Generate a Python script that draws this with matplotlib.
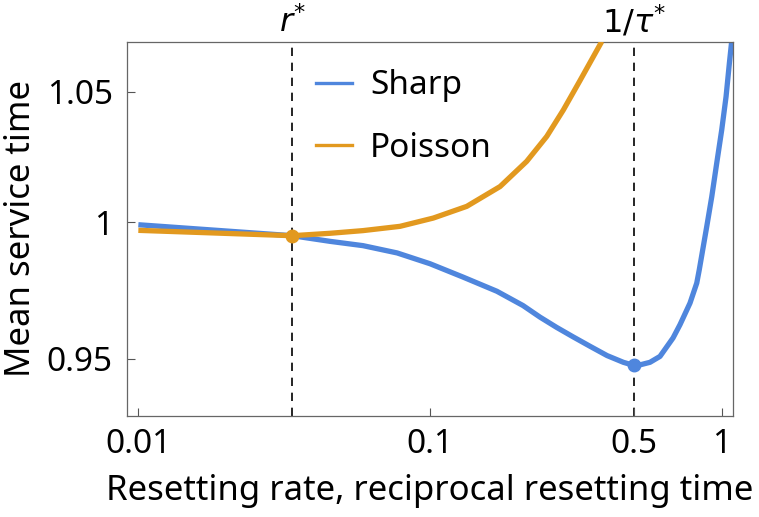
import matplotlib
matplotlib.use("Agg")
import matplotlib.pyplot as plt
from matplotlib.ticker import FixedLocator, FixedFormatter, NullLocator
from matplotlib.lines import Line2D

plt.rcParams['font.family'] = ['Noto Sans', 'DejaVu Sans']
plt.rcParams['mathtext.fontset'] = 'dejavusans'

# Sharp resetting (reciprocal resetting time)
sharp_x = [0.0100, 0.0337, 0.0454, 0.0589, 0.0771, 0.1000, 0.1297, 0.1695, 0.2083,
           0.2382, 0.2716, 0.3093, 0.3538, 0.4044, 0.4600, 0.5000, 0.5248, 0.5675,
           0.6141, 0.6808, 0.7194, 0.7784, 0.8210, 0.8375, 0.8886, 0.9244, 0.9611,
           1.0000, 1.0346, 1.0620, 1.0815]
sharp_y = [0.9990, 0.9949, 0.9928, 0.9912, 0.9885, 0.9845, 0.9796, 0.9744, 0.9692,
           0.9650, 0.9613, 0.9579, 0.9545, 0.9512, 0.9488, 0.9477, 0.9479, 0.9488,
           0.9509, 0.9575, 0.9623, 0.9701, 0.9774, 0.9823, 0.9984, 1.0096, 1.0223,
           1.0352, 1.0481, 1.0613, 1.0700]

# Poisson resetting (rate)
poisson_x = [0.0100, 0.0337, 0.0454, 0.0589, 0.0789, 0.1026, 0.1336, 0.1738, 0.2144,
             0.2512, 0.2864, 0.3268, 0.3879]
poisson_y = [0.9969, 0.9949, 0.9958, 0.9968, 0.9984, 1.0015, 1.0059, 1.0134, 1.0230,
             1.0326, 1.0429, 1.0545, 1.0700]

r_star = 0.0337
r_star_val = 0.9949
tau_inv = 0.5
tau_val = 0.9477

x_ticks = [0.01, 0.1, 0.5, 1]
x_tick_labels = ['0.01', '0.1', '0.5', '1']
y_ticks = [0.95, 1.0, 1.05]
y_tick_labels = ['0.95', '1', '1.05']

blue = '#4F86DD'
orange = '#E2991F'

fig = plt.figure(figsize=(7.59, 5.17), dpi=100)
ax = fig.add_axes([0.1669, 0.1959, 0.7984, 0.7238])
ax.set_xscale('log')
ax.set_yscale('log')
ax.set_xlim(0.00912, 1.09)
ax.set_ylim(0.930, 1.070)

ax.axvline(r_star, color='black', lw=1.2, ls=(0, (5, 4)), zorder=1)
ax.axvline(tau_inv, color='black', lw=1.2, ls=(0, (5, 4)), zorder=1)

ax.plot(sharp_x, sharp_y, color=blue, lw=3.8, solid_capstyle='butt',
        solid_joinstyle='round', zorder=2)
ax.plot(poisson_x, poisson_y, color=orange, lw=3.8, solid_capstyle='butt',
        solid_joinstyle='round', zorder=3)
ax.plot([r_star], [r_star_val], 'o', color=orange, ms=9, zorder=4)
ax.plot([tau_inv], [tau_val], 'o', color=blue, ms=9, zorder=4)

ax.xaxis.set_major_locator(FixedLocator(x_ticks))
ax.xaxis.set_major_formatter(FixedFormatter(x_tick_labels))
ax.xaxis.set_minor_locator(NullLocator())
ax.yaxis.set_major_locator(FixedLocator(y_ticks))
ax.yaxis.set_major_formatter(FixedFormatter(y_tick_labels))
ax.yaxis.set_minor_locator(NullLocator())
ax.tick_params(axis='both', direction='in', length=6, width=0.8, color='#555555',
               labelsize=24)
ax.tick_params(axis='x', pad=9)
ax.tick_params(axis='y', pad=10)
for s in ax.spines.values():
    s.set_color('#666666')
    s.set_linewidth(0.9)

ax.set_xlabel('Resetting rate, reciprocal resetting time', fontsize=25, labelpad=9)
ax.set_ylabel('Mean service time', fontsize=25, labelpad=6)

ax.text(r_star, 1.025, r'$r^{*}$', transform=ax.get_xaxis_transform(),
        ha='center', va='baseline', fontsize=23)
ax.text(tau_inv, 1.025, r'$1/\tau^{*}$', transform=ax.get_xaxis_transform(),
        ha='center', va='baseline', fontsize=23)

handles = [Line2D([], [], color=blue, lw=2.4), Line2D([], [], color=orange, lw=2.4)]
ax.legend(handles, ['Sharp', 'Poisson'], loc='upper left', bbox_to_anchor=(0.312, 0.926),
          frameon=False, fontsize=24, handlelength=1.08, handletextpad=0.55,
          labelspacing=0.89, borderpad=0, borderaxespad=0)

fig.savefig('out.png', dpi=100)
